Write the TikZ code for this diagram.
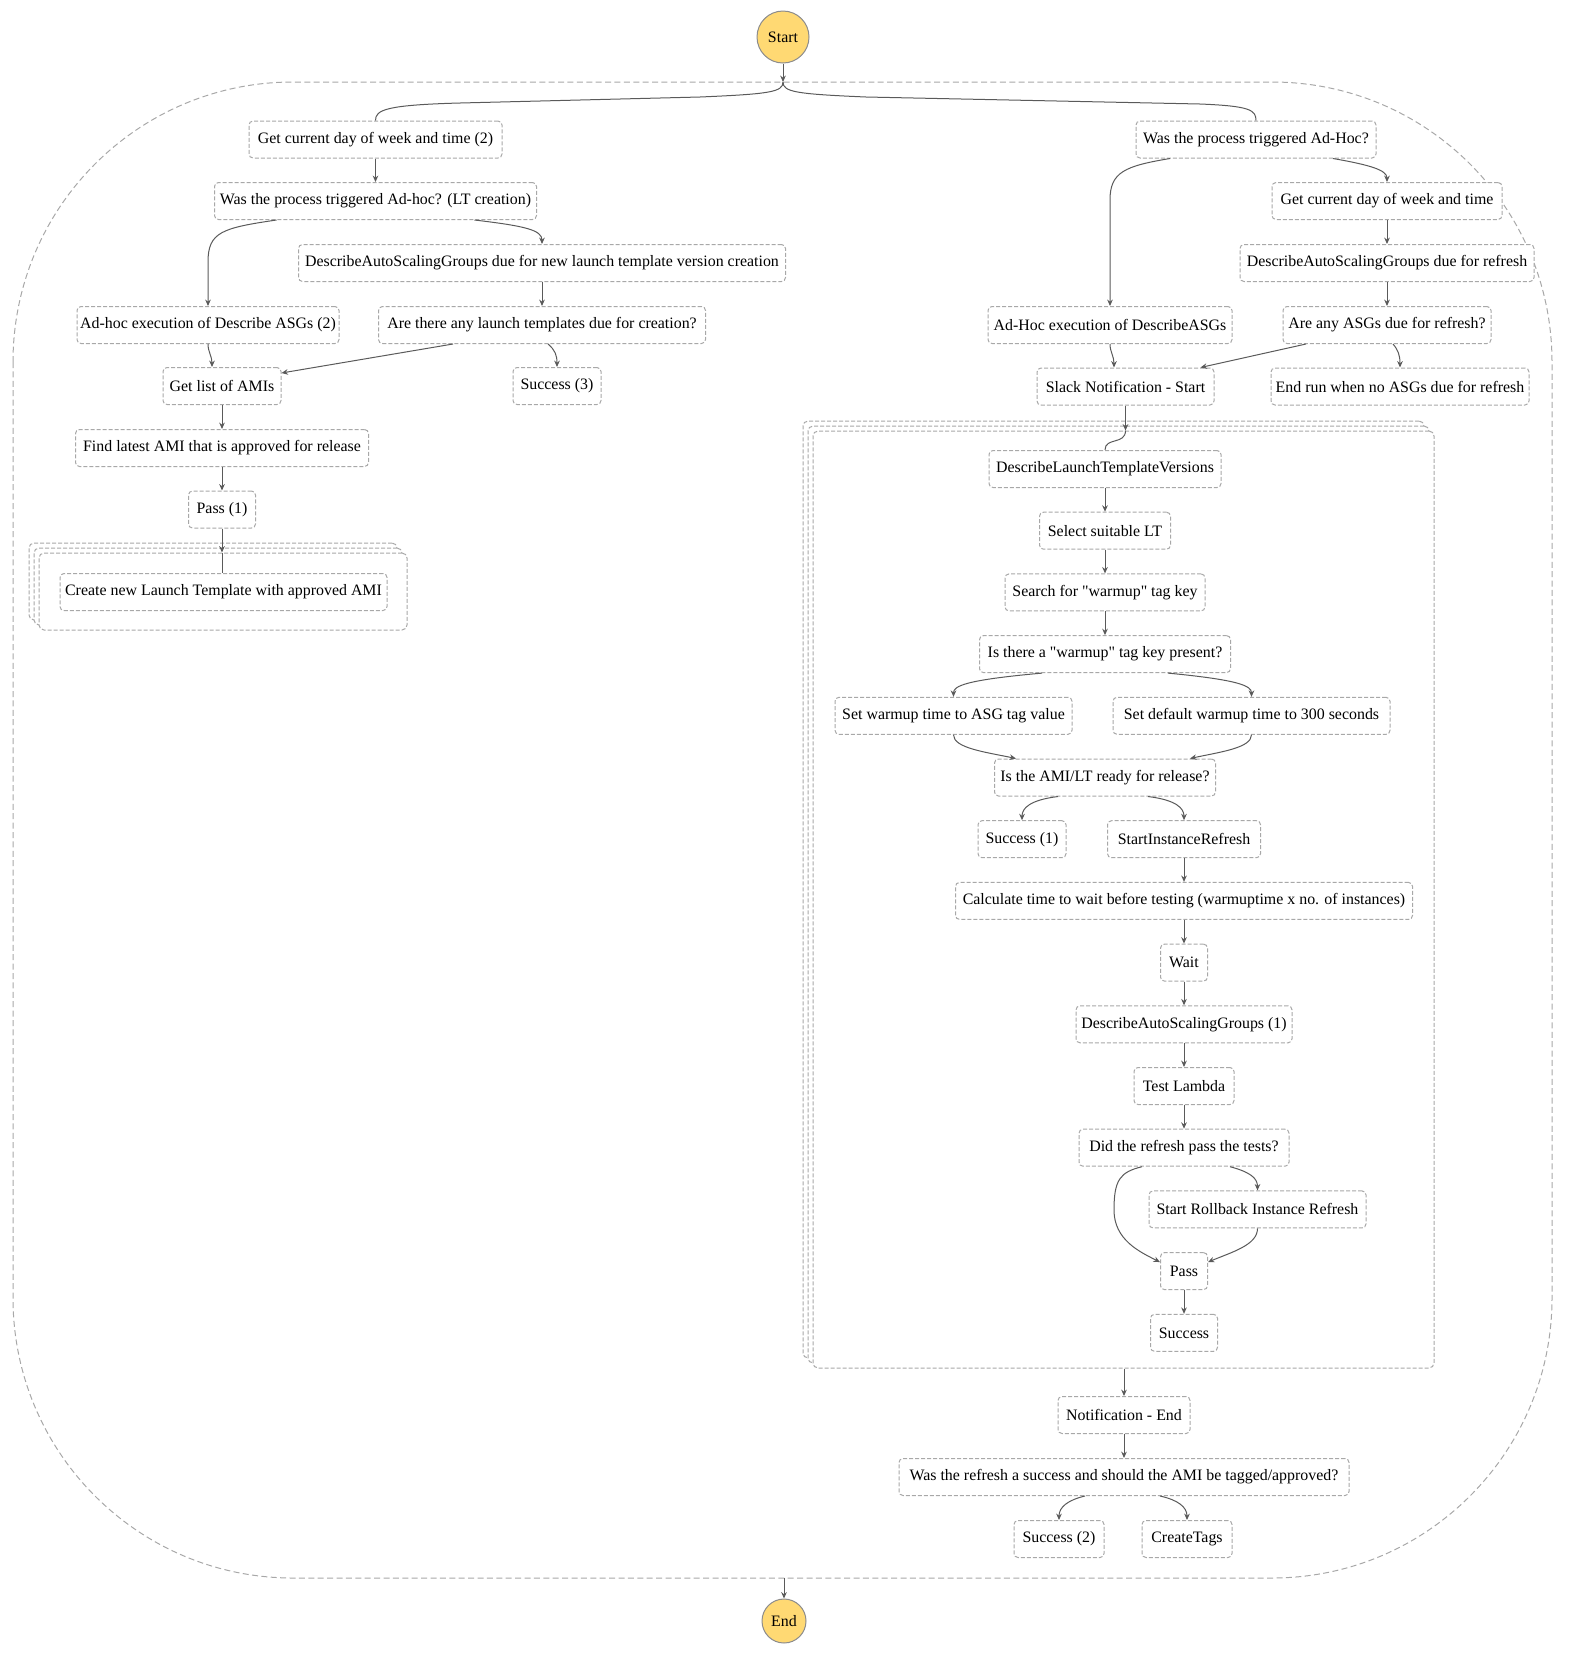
\documentclass[tikz,border=0pt]{standalone}
\usepackage{fontspec}
\setmainfont{Liberation Serif}[Ligatures=TeXOff]
\usetikzlibrary{arrows.meta,calc}
\definecolor{termfill}{RGB}{255,217,115}
\definecolor{termline}{RGB}{140,140,140}
\definecolor{boxline}{RGB}{168,168,168}
\definecolor{arrowc}{RGB}{90,90,90}
\begin{document}
\begin{tikzpicture}[x=0.5pt,y=-0.5pt,
  font=\fontsize{7.95}{9.5}\selectfont,
  box/.style={draw=boxline, dash pattern=on 2pt off 1pt, line width=0.5pt, rounded corners=2pt,
    fill=white, minimum height=18.5pt, inner sep=0pt, align=center},
  bw/.style={minimum width=#1*0.5pt},
  mapbox/.style={draw=boxline, dash pattern=on 2pt off 1pt, line width=0.5pt, rounded corners=2.5pt,
    fill=white, inner sep=0pt},
  term/.style={circle, draw=termline, fill=termfill, line width=0.5pt, inner sep=0pt},
  arr/.style={draw=arrowc, line width=0.5pt, -{Stealth[length=3.2pt,width=2.8pt]}},
  ln/.style={draw=arrowc, line width=0.5pt},
]
\useasboundingbox (0,0) rectangle (1569,1656);

% outer parallel container
\draw[boxline, dash pattern=on 3pt off 1.7pt, line width=0.5pt, rounded corners=140pt]
  (13,82) rectangle (1552,1578);
\coordinate (otop) at (783,82);
\coordinate (obot) at (784,1578);

% terminals
\node[term, minimum size=26pt] (start) at (783,37) {Start};
\node[term, minimum size=22pt] (end) at (784,1621) {End};

% left branch
\node[box,bw=253] (gd2) at (375.5,139.5) {Get current day of week and time (2)};
\node[box,bw=322] (wlt) at (375.5,201) {Was the process triggered Ad-hoc? (LT creation)};
\node[box,bw=487] (dnew) at (542,263) {DescribeAutoScalingGroups due for new launch template version creation};
\node[box,bw=262] (adh2) at (208,325) {Ad-hoc execution of Describe ASGs (2)};
\node[box,bw=327] (alt) at (542,325) {Are there any launch templates due for creation?};
\node[box,bw=118] (ami) at (222,386) {Get list of AMIs};
\node[box,bw=88] (suc3) at (557,386) {Success (3)};
\node[box,bw=293] (find) at (222,448) {Find latest AMI that is approved for release};
\node[box,bw=67] (pass1) at (222,509.5) {Pass (1)};

% left map stack
\node[mapbox, minimum width=184pt, minimum height=38.5pt] (lmapA) at (213,581.5) {};
\node[mapbox, minimum width=184pt, minimum height=38.5pt] (lmapB) at (218,586.5) {};
\node[mapbox, minimum width=184pt, minimum height=38.5pt] (lmapC) at (223,591.5) {};
\node[box,bw=327] (create) at (223.5,592) {Create new Launch Template with approved AMI};

% right branch
\node[box,bw=240] (wah) at (1256,139.5) {Was the process triggered Ad-Hoc?};
\node[box,bw=230] (gd) at (1387,201) {Get current day of week and time};
\node[box,bw=294] (dref) at (1387,263) {DescribeAutoScalingGroups due for refresh};
\node[box,bw=244] (adh) at (1110,325) {Ad-Hoc execution of DescribeASGs};
\node[box,bw=208] (aany) at (1387,325) {Are any ASGs due for refresh?};
\node[box,bw=177] (slack) at (1125.5,386.5) {Slack Notification - Start};
\node[box,bw=258] (endrun) at (1400,386.5) {End run when no ASGs due for refresh};

% right map stack
\node[mapbox, minimum width=310.5pt, minimum height=468.5pt] (rmapA) at (1113.5,889.5) {};
\node[mapbox, minimum width=310.5pt, minimum height=468.5pt] (rmapB) at (1118.5,894.5) {};
\node[mapbox, minimum width=310.5pt, minimum height=468.5pt] (rmapC) at (1123.5,899.5) {};

\node[box,bw=232] (dltv) at (1105,469) {DescribeLaunchTemplateVersions};
\node[box,bw=131] (sel) at (1105,530.7) {Select suitable LT};
\node[box,bw=200] (search) at (1105,592.4) {Search for "warmup" tag key};
\node[box,bw=251] (isw) at (1105,654.1) {Is there a "warmup" tag key present?};
\node[box,bw=237] (setasg) at (953.5,715.8) {Set warmup time to ASG tag value};
\node[box,bw=277] (setdef) at (1251.5,715.8) {Set default warmup time to 300 seconds};
\node[box,bw=221] (isami) at (1105,777.5) {Is the AMI/LT ready for release?};
\node[box,bw=88] (suc1) at (1022,839.2) {Success (1)};
\node[box,bw=153] (sir) at (1184,839.2) {StartInstanceRefresh};
\node[box,bw=457] (calc) at (1184,900.9) {Calculate time to wait before testing (warmuptime x no. of instances)};
\node[box,bw=47] (wait) at (1184,962.6) {Wait};
\node[box,bw=216] (dasg1) at (1184,1024.3) {DescribeAutoScalingGroups (1)};
\node[box,bw=100] (test) at (1184,1086) {Test Lambda};
\node[box,bw=210] (did) at (1184,1147.7) {Did the refresh pass the tests?};
\node[box,bw=217] (roll) at (1257.5,1209.4) {Start Rollback Instance Refresh};
\node[box,bw=47] (pass) at (1184,1271.1) {Pass};
\node[box,bw=67] (suc) at (1184,1332.8) {Success};

\node[box,bw=132] (nend) at (1124,1415) {Notification - End};
\node[box,bw=450] (wrs) at (1124,1477) {Was the refresh a success and should the AMI be tagged/approved?};
\node[box,bw=90] (suc2) at (1059,1539) {Success (2)};
\node[box,bw=90] (ctag) at (1187,1539) {CreateTags};

% ---- connectors ----
\draw[arr] (start.south) -- (otop);
\draw[ln] (otop) .. controls (783,92) and (770,94) .. (700,97) -- (460,103)
  .. controls (385,105) and (375.5,110) .. (gd2.north);
\draw[ln] (otop) .. controls (783,92) and (796,94) .. (866,97) -- (1200,104)
  .. controls (1250,106) and (1256,110) .. (wah.north);

% left
\draw[arr] (gd2.south) -- (wlt.north);
\draw[arr] ($(wlt.south)+(-99,0)$) .. controls (222,228) and (208,232) .. (208,262) -- (adh2.north);
\draw[arr] ($(wlt.south)+(99,0)$) .. controls (525,226) and (542,230) .. (dnew.north);
\draw[arr] (dnew) -- (alt);
\draw[arr] (adh2.south) .. controls (208,352) and (212,356) .. ($(ami.north)+(-10,0)$);
\draw[arr] ($(alt.south)+(-89,0)$) -- ($(ami.north east)+(0,6)$);
\draw[arr] ($(alt.south)+(6,0)$) .. controls (555,350) and (557,355) .. (suc3.north);
\draw[arr] (ami) -- (find);
\draw[arr] (find) -- (pass1);
\draw[arr] (pass1.south) -- (pass1.south |- lmapC.north);
\draw[ln] (pass1.south |- lmapC.north) -- (pass1.south |- create.north);

% right
\draw[arr] ($(wah.south)+(77,0)$) .. controls (1370,165) and (1387,170) .. (gd.north);
\draw[arr] ($(wah.south)+(-86,0)$) .. controls (1125,166) and (1110,172) .. (1110,200) -- (adh.north);
\draw[arr] (gd) -- (dref);
\draw[arr] (dref) -- (aany);
\draw[arr] (adh.south) .. controls (1110,352) and (1114,356) .. ($(slack.north)+(-11.5,0)$);
\draw[arr] ($(aany.south)+(-81,0)$) -- ($(slack.north east)+(-14,0)$);
\draw[arr] ($(aany.south)+(6,0)$) .. controls (1398,350) and (1400,355) .. (endrun.north);
\draw[arr] (slack.south) -- (slack.south |- rmapC.north);
\draw[ln] (slack.south |- rmapC.north) .. controls (1125.5,445) and (1105,437) .. (dltv.north);

% inner map
\draw[arr] (dltv) -- (sel);
\draw[arr] (sel) -- (search);
\draw[arr] (search) -- (isw);
\draw[arr] ($(isw.south)+(-63,0)$) .. controls (965,680) and (953.5,686) .. (setasg.north);
\draw[arr] ($(isw.south)+(63,0)$) .. controls (1240,680) and (1251.5,686) .. (setdef.north);
\draw[arr] (setasg.south) .. controls (953.5,748) and (985,752) .. ($(isami.north)+(-89,0)$);
\draw[arr] (setdef.south) .. controls (1251.5,748) and (1220,752) .. ($(isami.north)+(85,0)$);
\draw[arr] ($(isami.south)+(-47,0)$) .. controls (1030,800) and (1022,808) .. (suc1.north);
\draw[arr] ($(isami.south)+(43,0)$) .. controls (1176,800) and (1184,808) .. (sir.north);
\draw[arr] (sir) -- (calc);
\draw[arr] (calc) -- (wait);
\draw[arr] (wait) -- (dasg1);
\draw[arr] (dasg1) -- (test);
\draw[arr] (test) -- (did);
\draw[arr] ($(did.south)+(-42,0)$) .. controls (1120,1172) and (1114,1180) .. (1114,1210)
  .. controls (1114,1240) and (1140,1252) .. ($(pass.west)+(0,-9)$);
\draw[arr] ($(did.south)+(46,0)$) .. controls (1250,1172) and (1257.5,1178) .. (roll.north);
\draw[arr] (roll.south) .. controls (1257.5,1245) and (1232,1252) .. ($(pass.east)+(0,-9)$);
\draw[arr] (pass) -- (suc);

% after map
\draw[arr] (rmapC.south -| nend) -- (nend.north);
\draw[arr] (nend) -- (wrs);
\draw[arr] ($(wrs.south)+(-39,0)$) .. controls (1068,1500) and (1059,1507) .. (suc2.north);
\draw[arr] ($(wrs.south)+(36,0)$) .. controls (1178,1500) and (1187,1507) .. (ctag.north);
\draw[arr] (obot) -- (end.north);
\end{tikzpicture}
\end{document}
